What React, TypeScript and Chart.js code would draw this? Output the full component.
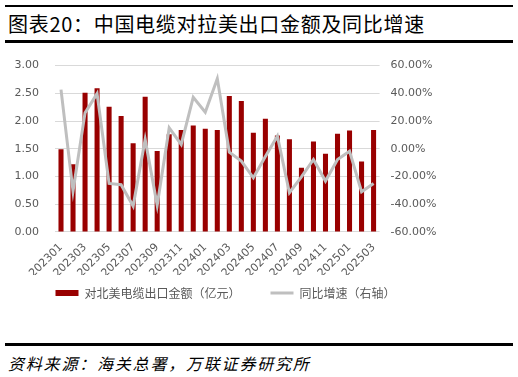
import React, { useEffect, useRef } from "react";
import { Chart, registerables } from "chart.js";

Chart.register(...registerables);

const months = [
  "202301", "202302", "202303", "202304", "202305", "202306", "202307", "202308", "202309",
  "202310", "202311", "202312", "202401", "202402", "202403", "202404", "202405", "202406",
  "202407", "202408", "202409", "202410", "202411", "202412", "202501", "202502", "202503",
];

const exportValues = [
  1.49, 1.22, 2.51, 2.59, 2.26, 2.09, 1.6, 2.44, 1.46,
  1.76, 1.84, 1.92, 1.86, 1.84, 2.45, 2.36, 1.79, 2.04,
  1.74, 1.67, 1.16, 1.63, 1.41, 1.77, 1.83, 1.27, 1.84,
];

const yoyGrowth = [
  42.7, -30.5, 25.9, 39.8, -25.0, -25.9, -41.3, 6.7, -40.8,
  15.1, 3.1, 37.2, 26.4, 50.6, -2.4, -8.9, -20.9, -5.5,
  9.1, -31.7, -20.2, -7.7, -23.3, -7.7, -1.7, -31.0, -25.0,
];

const seriesNames = ["对北美电缆出口金额（亿元）", "同比增速（右轴）"];
const leftAxis = { min: 0, max: 3, step: 0.5 };
const rightAxis = { min: -60, max: 60, step: 20 };

const title = "图表20：中国电缆对拉美出口金额及同比增速";
const source = "资料来源：海关总署，万联证券研究所";

const BAR_COLOR = "#990000";
const LINE_COLOR = "#bfbfbf";
const TEXT_COLOR = "#595959";
const GRID_COLOR = "#d9d9d9";

export default function App() {
  const ref = useRef<HTMLCanvasElement>(null);

  useEffect(() => {
    const chart = new Chart(ref.current!, {
      type: "bar",
      data: {
        labels: months,
        datasets: [
          {
            type: "bar",
            label: seriesNames[0],
            data: exportValues,
            backgroundColor: BAR_COLOR,
            borderWidth: 0,
            yAxisID: "y",
            order: 2,
            categoryPercentage: 1,
            barPercentage: 0.42,
          },
          {
            type: "line",
            label: seriesNames[1],
            data: yoyGrowth,
            borderColor: LINE_COLOR,
            backgroundColor: LINE_COLOR,
            borderWidth: 3,
            pointRadius: 0,
            pointBorderWidth: 3,
            tension: 0,
            yAxisID: "y1",
            order: 1,
          },
        ] as any,
      },
      options: {
        responsive: false,
        animation: false,
        layout: { padding: { left: 14.5, right: 7.5, top: 0, bottom: 0 } },
        plugins: {
          tooltip: { enabled: false },
          legend: {
            position: "bottom",
            labels: {
              usePointStyle: true,
              pointStyleWidth: 23,
              boxHeight: 6,
              padding: 12,
              color: TEXT_COLOR,
              font: { family: "'Noto Sans CJK SC'", size: 12 },
              generateLabels: (c: any) => {
                const items = (Chart.defaults.plugins.legend.labels as any).generateLabels(c);
                return items
                  .map((it: any) => {
                    const isBar = it.datasetIndex === 0;
                    return {
                      ...it,
                      text: isBar ? it.text + "\u2002\u2002\u2002" : it.text,
                      pointStyle: isBar ? "rect" : "line",
                      fillStyle: isBar ? BAR_COLOR : LINE_COLOR,
                      strokeStyle: isBar ? BAR_COLOR : LINE_COLOR,
                      lineWidth: isBar ? 0 : 3,
                      fontColor: TEXT_COLOR,
                    };
                  })
                  .sort((a: any, b: any) => a.datasetIndex - b.datasetIndex);
              },
            },
          },
        },
        scales: {
          x: {
            grid: { display: false, drawTicks: false },
            border: { display: false },
            afterFit: (s: any) => {
              s.height -= 14;
            },
            ticks: {
              autoSkip: false,
              minRotation: 45,
              maxRotation: 45,
              padding: 9,
              color: TEXT_COLOR,
              font: { family: "'DejaVu Sans'", size: 11 },
              callback: (_v: any, i: number) => (i % 2 === 0 ? months[i] : ""),
            },
          },
          y: {
            position: "left",
            min: leftAxis.min,
            max: leftAxis.max,
            grid: { color: GRID_COLOR, drawTicks: false },
            border: { display: false },
            afterFit: (s: any) => {
              s.width -= 16;
            },
            ticks: {
              stepSize: leftAxis.step,
              padding: 16,
              color: TEXT_COLOR,
              font: { family: "'DejaVu Sans'", size: 11 },
              callback: (v: any) => Number(v).toFixed(2),
            },
          },
          y1: {
            position: "right",
            min: rightAxis.min,
            max: rightAxis.max,
            grid: { display: false, drawTicks: false },
            border: { display: false },
            afterFit: (s: any) => {
              s.width -= 11;
            },
            ticks: {
              stepSize: rightAxis.step,
              padding: 11,
              color: TEXT_COLOR,
              font: { family: "'DejaVu Sans'", size: 11 },
              callback: (v: any) => Number(v).toFixed(2) + "%",
            },
          },
        },
      } as any,
    });
    return () => chart.destroy();
  }, []);

  return (
    <div
      style={{
        position: "absolute",
        left: 0,
        top: 0,
        width: 518,
        height: 377,
        background: "#fff",
        fontFamily: "'Noto Sans CJK SC', sans-serif",
      }}
    >
      <div style={{ position: "absolute", left: 5, top: 5, width: 508, height: 2, background: "#000" }} />
      <div
        style={{
          position: "absolute",
          left: 8,
          top: 10,
          fontSize: 20,
          lineHeight: "28px",
          letterSpacing: 0.7,
          color: "#000",
          whiteSpace: "nowrap",
        }}
      >
        {title}
      </div>
      <div style={{ position: "absolute", left: 5, top: 40, width: 508, height: 2.5, background: "#000" }} />
      <canvas
        ref={ref}
        width={444}
        height={266}
        style={{ position: "absolute", left: 0, top: 43, width: 444, height: 266 }}
      />
      <div style={{ position: "absolute", left: 5, top: 343, width: 508, height: 3, background: "#000" }} />
      <div
        style={{
          position: "absolute",
          left: 8,
          top: 351,
          fontSize: 16,
          lineHeight: "24px",
          letterSpacing: 1.8,
          fontStyle: "italic",
          color: "#000",
          whiteSpace: "nowrap",
        }}
      >
        {source}
      </div>
    </div>
  );
}
